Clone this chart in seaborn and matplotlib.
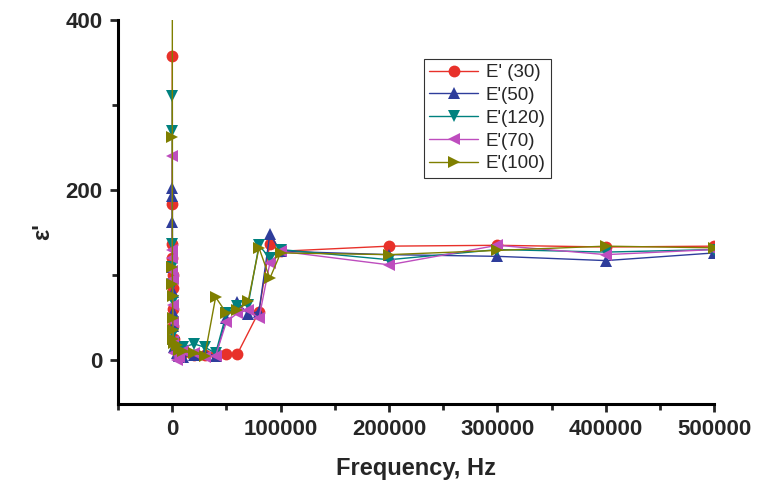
import numpy as np
import pandas as pd
import matplotlib
matplotlib.use("Agg")
import matplotlib.pyplot as plt
from matplotlib.ticker import MultipleLocator
import seaborn as sns

# frequencies (Hz), shared by every series
freq = [20, 40, 60, 100, 200, 400, 600, 1000, 2000, 4000, 6000, 10000, 20000,
        30000, 40000, 50000, 60000, 70000, 80000, 90000, 100000,
        200000, 300000, 400000, 500000]

e30 = [358, 184, 136, 120, 100, 85, 60, 40, 25, 15, 10, 8, 6,
       6, 7, 7, 7, None, 57, 137, 128, 134, 135, 133, 134]
e50 = [202, 193, 163, 110, 80, 57, 40, 25, 15, 8, 5, 4, 6,
       8, 5, 50, 68, 54, 57, 148, 128, 124, 122, 117, 126]
e120 = [311, 270, 137, 110, 90, 70, 45, 30, 20, 12, 8, 15, 19,
        15, 8, 55, 63, 65, 135, 120, 130, 118, 130, 127, 130]
e70 = [240, 130, 120, 105, 95, 65, 45, 22, 8, 0, 3, 10, 8,
       4, 5, 45, 55, 59, 49, 114, 128, 112, 135, 124, 130]
e100 = [430, 263, 110, 90, 75, 50, 35, 25, 20, 18, 12, 10, 8,
        5, 74, 55, 59, 69, 132, 96, 126, 124, 129, 134, 132]

labels = ["E' (30)", "E'(50)", "E'(120)", "E'(70)", "E'(100)"]
series = [e30, e50, e120, e70, e100]
colors = ["#E8312A", "#2E3D9B", "#00817F", "#BE4DBE", "#7F7F00"]
markers = ["o", "^", "v", "<", ">"]

sns.set_style("white")
plt.rcParams["font.family"] = ["Liberation Sans", "DejaVu Sans"]

fig = plt.figure(figsize=(7.72, 4.8), dpi=100)
ax = fig.add_axes([0.153, 0.158, 0.772, 0.8])

for lab, vals, col, mk in zip(labels, series, colors, markers):
    df = pd.DataFrame({"f": freq, "v": vals}).dropna()
    sns.lineplot(data=df, x="f", y="v", ax=ax, color=col, marker=mk,
                 markersize=8.5, markeredgewidth=0, linewidth=1,
                 label=lab, sort=False)

ax.set_xlim(-50000, 500000)
ax.set_ylim(-52, 400)
ax.set_xticks([0, 100000, 200000, 300000, 400000, 500000])
ax.set_yticks([0, 200, 400])
ax.xaxis.set_minor_locator(MultipleLocator(50000))
ax.yaxis.set_minor_locator(MultipleLocator(100))

for s in ["top", "right"]:
    ax.spines[s].set_visible(False)
for s in ["left", "bottom"]:
    ax.spines[s].set_linewidth(2.2)
    ax.spines[s].set_color("black")

ax.tick_params(which="major", direction="out", length=6, width=2,
               labelsize=16, left=True, bottom=True, pad=5)
ax.tick_params(which="minor", direction="out", length=4, width=2,
               left=True, bottom=True)
for t in ax.get_xticklabels() + ax.get_yticklabels():
    t.set_fontweight("bold")

ax.set_xlabel("Frequency, Hz", fontsize=17, fontweight="bold", labelpad=12)
ax.set_ylabel("ε'", fontsize=17, fontweight="bold")
ax.yaxis.set_label_coords(-0.108, 0.45)

leg = ax.legend(loc="upper left", bbox_to_anchor=(0.513, 0.9), fontsize=13.5,
                frameon=True, fancybox=False, borderpad=0.3,
                labelspacing=0.3, handlelength=2.6, handletextpad=0.4,
                borderaxespad=0)
leg.get_frame().set_edgecolor("black")
leg.get_frame().set_linewidth(0.8)

fig.savefig("out.png", dpi=100)
